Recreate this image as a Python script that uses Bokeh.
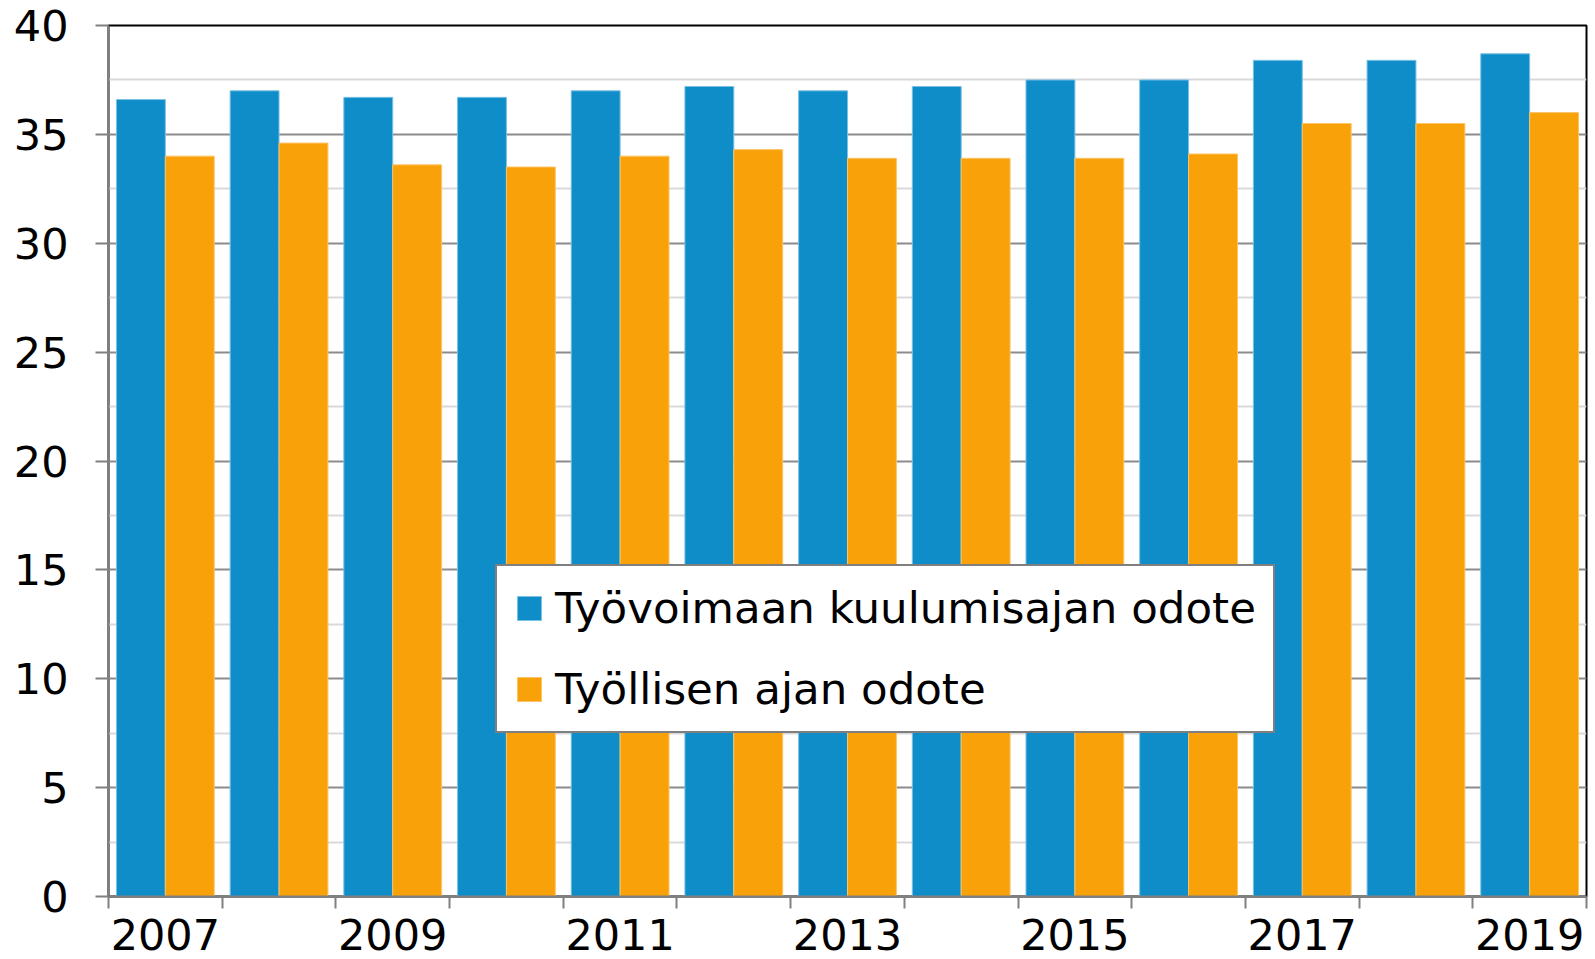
import numpy as np
from bokeh.plotting import figure
from bokeh.models import Range1d, FixedTicker, Legend, LegendItem, ColumnDataSource
from bokeh.transform import dodge
from bokeh.embed import file_html
from bokeh.resources import INLINE

# ---- data ----
years = ["2007", "2008", "2009", "2010", "2011", "2012", "2013",
         "2014", "2015", "2016", "2017", "2018", "2019"]
labour_force_expectancy = [36.6, 37.0, 36.7, 36.7, 37.0, 37.2, 37.0,
                           37.2, 37.5, 37.5, 38.4, 38.4, 38.7]
employment_expectancy = [34.0, 34.6, 33.6, 33.5, 34.0, 34.3, 33.9,
                         33.9, 33.9, 34.1, 35.5, 35.5, 36.0]
series_names = ["Työvoimaan kuulumisajan odote", "Työllisen ajan odote"]
y_ticks = [0, 5, 10, 15, 20, 25, 30, 35, 40]
y_minor = [2.5, 7.5, 12.5, 17.5, 22.5, 27.5, 32.5, 37.5]

BLUE = "#0F8DC9"
ORANGE = "#F9A109"
FONT = "DejaVu Sans"

n = len(years)
idx = np.arange(n)
src = ColumnDataSource(dict(x=idx, year=years,
                            a=labour_force_expectancy,
                            b=employment_expectancy))

p = figure(width=1595, height=959,
           x_range=Range1d(-0.5, n - 0.5), y_range=Range1d(0, 40),
           output_backend="svg", toolbar_location=None,
           min_border_left=108, min_border_right=9,
           min_border_top=25, min_border_bottom=63)
p.background_fill_color = "white"
p.border_fill_color = "white"
p.outline_line_color = "black"
p.outline_line_width = 2

bw = 0.43
r1 = p.vbar(x=dodge("x", -bw / 2, range=p.x_range), top="a", width=bw,
            source=src, fill_color=BLUE, line_color="#7cc0e6", line_width=1)
r2 = p.vbar(x=dodge("x", bw / 2, range=p.x_range), top="b", width=bw,
            source=src, fill_color=ORANGE, line_color="#fbc466", line_width=1)

# grid
p.xgrid.visible = False
p.ygrid.ticker = FixedTicker(ticks=y_ticks, minor_ticks=y_minor)
p.ygrid.grid_line_color = "#8c8c8c"
p.ygrid.grid_line_width = 2
p.ygrid.minor_grid_line_color = "#d9d9d9"
p.ygrid.minor_grid_line_width = 2

# y axis
ya = p.yaxis[0]
ya.ticker = FixedTicker(ticks=y_ticks)
ya.axis_line_color = "#808080"
ya.axis_line_width = 2
ya.major_tick_line_color = "#808080"
ya.major_tick_line_width = 2
ya.major_tick_out = 13
ya.major_tick_in = 0
ya.minor_tick_line_color = None
ya.major_label_text_font = FONT
ya.major_label_text_font_size = "43px"
ya.major_label_text_color = "black"
ya.major_label_standoff = 27

# x axis
xa = p.xaxis[0]
label_pos = [int(i) for i in idx[::2]]
xa.ticker = FixedTicker(ticks=label_pos,
                        minor_ticks=[float(v) for v in (np.arange(n + 1) - 0.5)])
xa.major_label_overrides = {int(i): years[i] for i in label_pos}
xa.axis_line_color = "#808080"
xa.axis_line_width = 2
xa.major_tick_line_color = None
xa.major_tick_out = 0
xa.major_tick_in = 0
xa.minor_tick_line_color = "#808080"
xa.minor_tick_line_width = 2
xa.minor_tick_out = 12
xa.minor_tick_in = 0
xa.major_label_text_font = FONT
xa.major_label_text_font_size = "43px"
xa.major_label_text_color = "black"
xa.major_label_standoff = 10

legend = Legend(items=[LegendItem(label=series_names[0], renderers=[r1]),
                       LegendItem(label=series_names[1], renderers=[r2])],
                location=(387, 163))
legend.label_text_font = FONT
legend.label_text_font_size = "43.5px"
legend.label_text_color = "black"
legend.glyph_width = 30
legend.glyph_height = 30
legend.label_standoff = 11
legend.label_width = 700
legend.padding = 17
legend.spacing = 31
legend.margin = 0
legend.border_line_color = "black"
legend.border_line_width = 2
legend.background_fill_color = "white"
legend.background_fill_alpha = 1.0
p.add_layout(legend)

open("out.html", "w").write(file_html(p, INLINE))
